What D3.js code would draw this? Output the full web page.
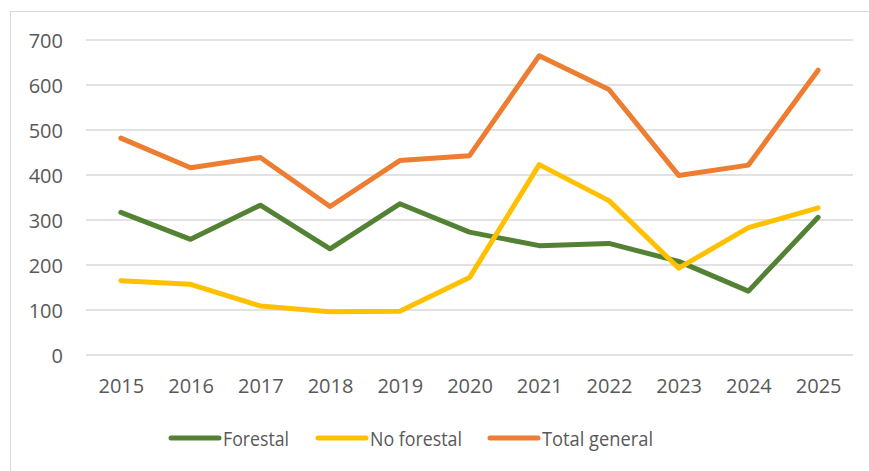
<!DOCTYPE html>
<html>
<head>
<meta charset="utf-8">
<script src="https://cdn.jsdelivr.net/npm/d3@7"></script>
<style>
  html, body { margin: 0; padding: 0; background: #fff; }
  svg { display: block; }
  text { font-family: "Open Sans", sans-serif; fill: #595959; }
</style>
</head>
<body>
<svg id="chart" width="869" height="471"></svg>
<script>
const years = ["2015","2016","2017","2018","2019","2020","2021","2022","2023","2024","2025"];
const forestal = [317, 257, 333, 236, 336, 273, 243, 248, 208, 142, 306];
const noForestal = [165, 157, 109, 96, 97, 172, 423, 343, 193, 283, 327];
const totalGeneral = [482, 416, 439, 330, 432, 443, 665, 590, 399, 422, 633];
const yTicks = [0, 100, 200, 300, 400, 500, 600, 700];
const seriesNames = ["Forestal", "No forestal", "Total general"];
const seriesColors = ["#548235", "#FFC000", "#ED7D31"];

const series = [
  { name: seriesNames[0], values: forestal, color: seriesColors[0] },
  { name: seriesNames[1], values: noForestal, color: seriesColors[1] },
  { name: seriesNames[2], values: totalGeneral, color: seriesColors[2] }
];

const svg = d3.select("#chart");

// outer frame
svg.append("rect")
  .attr("x", 10.5).attr("y", 11.5)
  .attr("width", 880).attr("height", 480)
  .attr("fill", "none").attr("stroke", "#d9d9d9").attr("stroke-width", 1);

const x = d3.scalePoint().domain(years).range([86, 853]).padding(0.5);
const y = d3.scaleLinear().domain([0, 700]).range([355, 40]);

// gridlines
svg.append("g").selectAll("line").data(yTicks).join("line")
  .attr("x1", 86).attr("x2", 853)
  .attr("y1", d => y(d)).attr("y2", d => y(d))
  .attr("stroke", "#d9d9d9").attr("stroke-width", 1.3);

// y axis labels
const yAxis = d3.axisLeft(y).tickValues(yTicks).tickSize(0).tickPadding(0);
const gy = svg.append("g").attr("transform", "translate(63,0)").call(yAxis);
gy.select(".domain").remove();
gy.selectAll("text").attr("font-size", 20).attr("fill", "#595959")
  .attr("font-family", "Open Sans, sans-serif").attr("dy", "0.36em");

// x axis labels
const xAxis = d3.axisBottom(x).tickSize(0).tickPadding(0);
const gx = svg.append("g").attr("transform", "translate(0,393)").call(xAxis);
gx.select(".domain").remove();
gx.selectAll("text").attr("font-size", 20).attr("fill", "#595959")
  .attr("font-family", "Open Sans, sans-serif").attr("dy", 0).attr("y", 0);

// lines
const line = d3.line().x((d, i) => x(years[i])).y(d => y(d));
svg.append("g").selectAll("path").data(series).join("path")
  .attr("d", d => line(d.values))
  .attr("fill", "none")
  .attr("stroke", d => d.color)
  .attr("stroke-width", 5)
  .attr("stroke-linejoin", "round")
  .attr("stroke-linecap", "round");

// legend
const legendX = [171, 318, 490];
const legendW = [66, 92, 111];
const lg = svg.append("g").selectAll("g").data(series).join("g")
  .attr("transform", (d, i) => `translate(${legendX[i]},438)`);
lg.append("line")
  .attr("x1", 0).attr("x2", 48).attr("y1", 0).attr("y2", 0)
  .attr("stroke", d => d.color).attr("stroke-width", 5).attr("stroke-linecap", "round");
lg.append("text")
  .attr("x", 52).attr("y", 7.5)
  .attr("font-size", 20.5)
  .attr("textLength", (d, i) => legendW[i])
  .attr("lengthAdjust", "spacingAndGlyphs")
  .text(d => d.name);
</script>
</body>
</html>
